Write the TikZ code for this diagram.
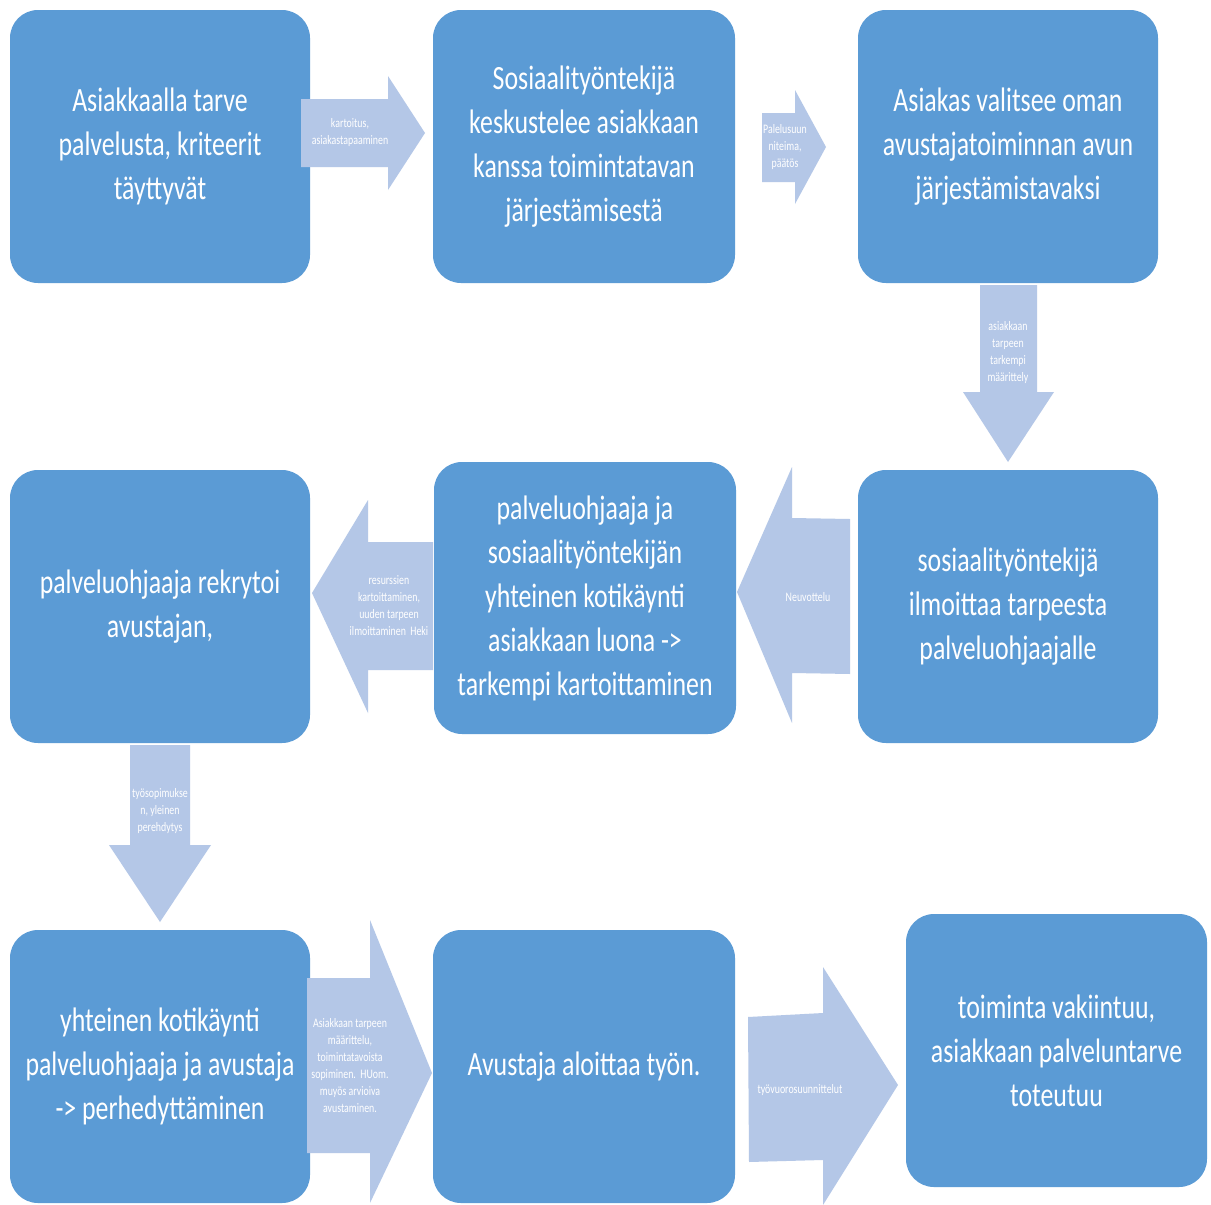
\documentclass[tikz,border=0pt]{standalone}
\usepackage{fontspec}
\setmainfont{Carlito}[FakeStretch=0.76]
\definecolor{boxblue}{HTML}{5B9BD5}
\definecolor{arrowblue}{HTML}{B4C7E7}
\tikzset{
  stepbox/.style={rectangle,rounded corners=28pt,fill=boxblue,text=white,
    minimum width=300pt,minimum height=273pt,inner sep=0pt,align=center,
    font=\fontsize{34}{44}\selectfont},
  arrowtext/.style={text=white,align=center,inner sep=0pt,
    font=\fontsize{13}{17}\selectfont}
}
\begin{document}
\begin{tikzpicture}[x=1pt,y=-1pt]
\useasboundingbox[fill=white] (0,0) rectangle (1211,1205);
    \node[stepbox] (tarve) at (160,146.5) {Asiakkaalla tarve\\palvelusta, kriteerit\\täyttyvät};
    \node[stepbox,minimum width=302pt] (keskustelu) at (584,146.5) {Sosiaalityöntekijä\\keskustelee asiakkaan\\kanssa toimintatavan\\järjestämisestä};
    \node[stepbox] (valinta) at (1008,146.5) {Asiakas valitsee oman\\avustajatoiminnan avun\\järjestämistavaksi};
    \node[stepbox] (rekry) at (160,606.5) {palveluohjaaja rekrytoi\\avustajan,};
    \node[stepbox,minimum width=302pt,minimum height=272pt] (kotikaynti) at (585,598) {palveluohjaaja ja\\sosiaalityöntekijän\\yhteinen kotikäynti\\asiakkaan luona ->\\tarkempi kartoittaminen};
    \node[stepbox] (ilmoitus) at (1008,606.5) {sosiaalityöntekijä\\ilmoittaa tarpeesta\\palveluohjaajalle};
    \node[stepbox] (perehdytys) at (160,1066.5) {yhteinen kotikäynti\\palveluohjaaja ja avustaja\\-> perhedyttäminen};
    \node[stepbox,minimum width=302pt] (aloitus) at (584,1066.5) {Avustaja aloittaa työn.};
    \node[stepbox,minimum width=301pt] (vakiintuu) at (1056.5,1050.5) {toiminta vakiintuu,\\asiakkaan palveluntarve\\toteutuu};
    \fill[arrowblue] (301,99) -- (388,99) -- (388,76) -- (425,133) -- (388,190) -- (388,167) -- (301,167) -- cycle;
    \node[arrowtext] (kartoitus) at (350,133) {kartoitus,\\asiakastapaaminen};
    \fill[arrowblue] (762,113) -- (795,113) -- (795,90) -- (826,147) -- (795,204) -- (795,182) -- (762,182) -- cycle;
    \node[arrowtext] (paatos) at (785,147) {Palelusuun\\niteima,\\päätös};
    \fill[arrowblue] (980,285) -- (1037,285) -- (1037,392) -- (1054,392) -- (1008,462) -- (963,392) -- (980,392) -- cycle;
    \node[arrowtext] (maarittely) at (1008,353) {asiakkaan\\tarpeen\\tarkempi\\määrittely};
    \fill[arrowblue] (850,519) -- (792,518) -- (792,467) -- (737,592) -- (792,723) -- (792,673) -- (850,674) -- cycle;
    \node[arrowtext] (neuvottelu) at (808,597) {Neuvottelu};
    \fill[arrowblue] (433,542) -- (368,542) -- (368,500) -- (312,593) -- (368,713) -- (368,670) -- (433,670) -- cycle;
    \node[arrowtext] (resurssit) at (389,606) {resurssien\\kartoittaminen,\\uuden tarpeen\\ilmoittaminen\ \ Heki};
    \fill[arrowblue] (130,745) -- (190,745) -- (190,845) -- (211,845) -- (160,922) -- (109,845) -- (130,845) -- cycle;
    \node[arrowtext] (sopimus) at (160,811) {työsopimukse\\n, yleinen\\perehdytys};
    \fill[arrowblue] (307,978) -- (370,978) -- (370,920) -- (432,1073) -- (370,1203) -- (370,1153) -- (307,1153) -- cycle;
    \node[arrowtext] (sopiminen) at (350,1066) {Asiakkaan tarpeen\\määrittelu,\\toimintatavoista\\sopiminen.\ \ HUom.\\muyös arvioiva\\avustaminen.};
    \fill[arrowblue] (748,1017) -- (823,1013) -- (823,967) -- (898,1085) -- (823,1205) -- (823,1160) -- (749,1162) -- cycle;
    \node[arrowtext] (vuorot) at (800,1090) {työvuorosuunnittelut};
\end{tikzpicture}
\end{document}
